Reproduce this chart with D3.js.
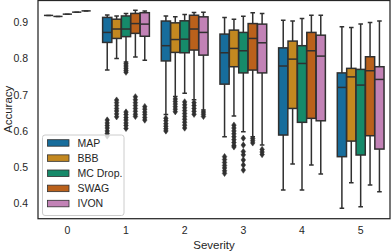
<!DOCTYPE html>
<html>
<head>
<meta charset="utf-8">
<script src="https://cdn.jsdelivr.net/npm/d3@7"></script>
<style>
    body { margin: 0; background: #fff; }
    svg { display: block; font-family: "Liberation Sans", Arial, sans-serif; }
</style>
</head>
<body>
<svg id="chart" width="391" height="252"></svg>
<script>

let severities = ['0', '1', '2', '3', '4', '5'];
let methods = ['MAP', 'BBB', 'MC Drop.', 'SWAG', 'IVON'];
let colors = ['#176d9c', '#c38820', '#168a6a', '#ba611b', '#c282b6'];
let yTicks = [0.4, 0.5, 0.6, 0.7, 0.8, 0.9];

// per method, one row per severity: [whisker low, q1, median, q3, whisker high]
let mapStats = [
    [0.9185, 0.9185, 0.9185, 0.9185, 0.9185],
    [0.768, 0.844, 0.8716, 0.913, 0.9193],
    [0.645, 0.793, 0.835, 0.903, 0.917],
    [0.584, 0.729, 0.8155, 0.867, 0.913],
    [0.437, 0.5887, 0.779, 0.829, 0.9055],
    [0.387, 0.529, 0.72, 0.76, 0.887]
];
let bbbStats = [
    [0.9157, 0.9157, 0.9157, 0.9157, 0.9157],
    [0.80, 0.855, 0.881, 0.908, 0.917],
    [0.695, 0.8165, 0.852, 0.898, 0.9146],
    [0.641, 0.777, 0.8275, 0.878, 0.908],
    [0.509, 0.662, 0.798, 0.8477, 0.9028],
    [0.4573, 0.572, 0.749, 0.7725, 0.885]
];
let mcStats = [
    [0.922, 0.922, 0.922, 0.922, 0.922],
    [0.79, 0.86, 0.881, 0.917, 0.924],
    [0.704, 0.8155, 0.853, 0.9036, 0.921],
    [0.598, 0.76, 0.821, 0.8716, 0.9165],
    [0.437, 0.6237, 0.786, 0.835, 0.910],
    [0.391, 0.5336, 0.7264, 0.7697, 0.8945]
];
let swagStats = [
    [0.9275, 0.9275, 0.9275, 0.9275, 0.9275],
    [0.804, 0.869, 0.896, 0.924, 0.933],
    [0.686, 0.823, 0.881, 0.919, 0.9267],
    [0.584, 0.7678, 0.855, 0.896, 0.9257],
    [0.506, 0.6347, 0.821, 0.8716, 0.919],
    [0.451, 0.5868, 0.766, 0.8045, 0.899]
];
let ivonStats = [
    [0.931, 0.931, 0.931, 0.931, 0.931],
    [0.795, 0.861, 0.8945, 0.926, 0.931],
    [0.658, 0.809, 0.8716, 0.9146, 0.927],
    [0.561, 0.76, 0.843, 0.8945, 0.924],
    [0.481, 0.628, 0.8063, 0.864, 0.919],
    [0.4325, 0.55, 0.742, 0.777, 0.9028]
];

// fliers, same layout
let mapFliers = [
    [], [0.630, 0.622, 0.615, 0.608, 0.600, 0.593, 0.586],
    [0.635, 0.628, 0.620, 0.613, 0.606, 0.600],
    [0.529, 0.521, 0.513, 0.505, 0.498, 0.490, 0.483], [], []
];
let bbbFliers = [
    [], [0.685, 0.678, 0.670, 0.662, 0.655, 0.647, 0.639],
    [0.688, 0.681, 0.674, 0.667, 0.660, 0.653],
    [0.616, 0.608, 0.600, 0.592, 0.584, 0.576, 0.568, 0.560, 0.556], [], []
];
let mcFliers = [
    [], [0.785, 0.779, 0.773, 0.767, 0.762, 0.652, 0.645, 0.637, 0.630, 0.622, 0.615, 0.607],
    [0.680, 0.672, 0.664, 0.656, 0.648, 0.640, 0.632, 0.624, 0.616, 0.608],
    [0.580, 0.561, 0.543, 0.534, 0.520, 0.506, 0.492], [], []
];
let swagFliers = [
    [], [0.694, 0.686, 0.678, 0.670, 0.662, 0.654, 0.646, 0.640],
    [0.678, 0.670, 0.662, 0.654, 0.646],
    [0.579, 0.573, 0.567], [], []
];
let ivonFliers = [
    [], [0.667, 0.660, 0.652, 0.645, 0.637, 0.630],
    [0.652, 0.646, 0.640],
    [0.549, 0.542, 0.535], [], []
];

let allStats = [mapStats, bbbStats, mcStats, swagStats, ivonStats];
let allFliers = [mapFliers, bbbFliers, mcFliers, swagFliers, ivonFliers];

let gray = '#303030';
let ink = '#262626';
let plot = {left: 38, right: 390, top: 0.5, bottom: 218.7};

let svg = d3.select('#chart');

let x0 = d3.scaleBand()
    .domain(severities)
    .range([plot.left, plot.right]);

let x1 = d3.scaleBand()
    .domain(methods)
    .range([0, x0.bandwidth() * 0.8]);

let y = d3.scaleLinear()
    .domain([0.358, 0.961])
    .range([plot.bottom, 0]);

let boxW = x1.bandwidth() * 0.98;
let capW = boxW * 0.5;

let boxes = [];
let fliers = [];
methods.forEach((m, mi) => {
    severities.forEach((s, si) => {
        let st = allStats[mi][si];
        let cx = x0(s) + x0.bandwidth() * 0.1 + x1(m) + x1.bandwidth() / 2;
        boxes.push({cx: cx, color: colors[mi], lo: st[0], q1: st[1], med: st[2], q3: st[3], hi: st[4]});
        allFliers[mi][si].forEach(v => fliers.push({cx: cx, v: v}));
    });
});

// axis tick labels (seaborn white style: no tick marks)
svg.append('g')
    .attr('transform', `translate(${plot.left},0)`)
    .call(d3.axisLeft(y).tickValues(yTicks).tickFormat(d3.format('.1f')).tickSize(0).tickPadding(10))
    .call(g => g.select('.domain').remove())
    .call(g => g.selectAll('text').attr('fill', ink).attr('font-size', 10.5).attr('font-family', null));

svg.append('g')
    .attr('transform', `translate(0,${plot.bottom})`)
    .call(d3.axisBottom(x0).tickSize(0).tickPadding(8))
    .call(g => g.select('.domain').remove())
    .call(g => g.selectAll('text').attr('fill', ink).attr('font-size', 10.5).attr('font-family', null));

svg.append('text')
    .attr('x', (plot.left + plot.right) / 2)
    .attr('y', 249)
    .attr('text-anchor', 'middle')
    .attr('fill', ink)
    .attr('font-size', 11.5)
    .text('Severity');

svg.append('text')
    .attr('transform', `translate(11.5,${plot.bottom / 2}) rotate(-90)`)
    .attr('text-anchor', 'middle')
    .attr('fill', ink)
    .attr('font-size', 11.5)
    .text('Accuracy');

let g = svg.append('g');

// whiskers
g.selectAll('.whisker')
    .data(boxes)
    .enter()
    .append('path')
    .attr('d', b => `M${b.cx},${y(b.q1)}V${y(b.lo)}M${b.cx},${y(b.q3)}V${y(b.hi)}`
          + `M${b.cx - capW / 2},${y(b.lo)}h${capW}M${b.cx - capW / 2},${y(b.hi)}h${capW}`)
    .attr('stroke', gray)
    .attr('stroke-width', 1.5)
    .attr('fill', 'none');

g.selectAll('.box')
    .data(boxes)
    .enter()
    .append('rect')
    .attr('x', b => b.cx - boxW / 2)
    .attr('width', boxW)
    .attr('y', b => y(b.q3))
    .attr('height', b => y(b.q1) - y(b.q3))
    .attr('fill', b => b.color)
    .attr('stroke', gray)
    .attr('stroke-width', 1.5);

g.selectAll('.median')
    .data(boxes)
    .enter()
    .append('line')
    .attr('x1', b => b.cx - boxW / 2)
    .attr('x2', b => b.cx + boxW / 2)
    .attr('y1', b => y(b.med))
    .attr('y2', b => y(b.med))
    .attr('stroke', gray)
    .attr('stroke-width', 1.5);

// thin diamond fliers
g.selectAll('.flier')
    .data(fliers)
    .enter()
    .append('path')
    .attr('transform', f => `translate(${f.cx},${y(f.v)})`)
    .attr('d', 'M0,-3.2L2.3,0L0,3.2L-2.3,0Z')
    .attr('fill', gray)
    .attr('stroke', gray)
    .attr('stroke-width', 0.5);

// frame
svg.append('rect')
    .attr('x', plot.left)
    .attr('y', plot.top)
    .attr('width', plot.right - plot.left)
    .attr('height', plot.bottom - plot.top)
    .attr('fill', 'none')
    .attr('stroke', ink)
    .attr('stroke-width', 1.25);

// legend
let legend = svg.append('g').attr('transform', 'translate(42.5,135)');

legend.append('rect')
    .attr('width', 81.5)
    .attr('height', 80.5)
    .attr('rx', 2.5)
    .attr('fill', '#fff')
    .attr('fill-opacity', 0.8)
    .attr('stroke', '#cccccc')
    .attr('stroke-width', 1);

let items = legend.selectAll('.item')
    .data(methods)
    .enter()
    .append('g')
    .attr('transform', (d, i) => `translate(5,${7.7 + i * 15.15})`);

items.append('rect')
    .attr('y', -3)
    .attr('width', 21.5)
    .attr('height', 6.5)
    .attr('fill', (d, i) => colors[i])
    .attr('stroke', gray)
    .attr('stroke-width', 0.8);

items.append('text')
    .attr('x', 30)
    .attr('y', 3.8)
    .attr('fill', ink)
    .attr('font-size', 10.5)
    .text(d => d);

</script>
</body>
</html>
